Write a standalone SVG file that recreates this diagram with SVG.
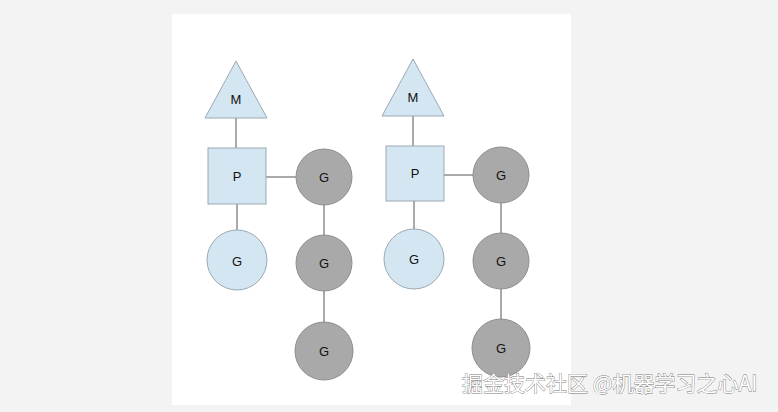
<svg xmlns="http://www.w3.org/2000/svg" width="778" height="412" viewBox="0 0 778 412">
<style>
.b{fill:#d4e6f2;stroke:#9aa9b4;stroke-width:1}
.g{fill:#a9a9a9;stroke:#8e8e8e;stroke-width:1}
.t{font-family:"Liberation Sans",Arial,sans-serif;font-size:13px;fill:#111;text-anchor:middle;dominant-baseline:central}
.c line{stroke:#555;stroke-width:1}
.w{font-family:"Noto Sans CJK SC",sans-serif;font-size:21px;fill:#fff;stroke:#777;stroke-width:0.8;paint-order:stroke}
</style>
<rect width="778" height="412" fill="#f3f3f3"/>
<rect x="172" y="14" width="399" height="391" fill="#fff"/>
<g class="c">
<line x1="236" y1="118" x2="236" y2="148"/><line x1="237" y1="204" x2="237" y2="230"/><line x1="266" y1="177" x2="296" y2="177"/>
<line x1="324" y1="205" x2="324" y2="235"/><line x1="324" y1="291" x2="324" y2="323"/>
<line x1="413" y1="116" x2="413" y2="146"/><line x1="414" y1="201" x2="414" y2="229"/><line x1="444" y1="175" x2="473" y2="175"/>
<line x1="501" y1="203" x2="501" y2="233"/><line x1="501" y1="289" x2="501" y2="320"/>
</g>
<g id="m1"><polygon class="b" points="236,61 267,118 205,118"/><text class="t" x="236" y="99">M</text></g>
<g id="p1"><rect class="b" x="208" y="148" width="58" height="56"/><text class="t" x="237" y="176">P</text></g>
<g id="g1"><circle class="b" cx="237" cy="260" r="30"/><text class="t" x="237" y="261">G</text></g>
<g id="g2"><circle class="g" cx="324" cy="177" r="28"/><text class="t" x="324" y="177">G</text></g>
<g id="g3"><circle class="g" cx="324" cy="263" r="28"/><text class="t" x="324" y="263">G</text></g>
<g id="g4"><circle class="g" cx="324" cy="351" r="29"/><text class="t" x="324" y="351">G</text></g>
<g id="m2"><polygon class="b" points="413,59 444,116 382,116"/><text class="t" x="413" y="97">M</text></g>
<g id="p2"><rect class="b" x="386" y="146" width="58" height="55"/><text class="t" x="415" y="173">P</text></g>
<g id="g5"><circle class="b" cx="414" cy="259" r="30"/><text class="t" x="414" y="259">G</text></g>
<g id="g6"><circle class="g" cx="501" cy="175" r="28"/><text class="t" x="501" y="175">G</text></g>
<g id="g7"><circle class="g" cx="501" cy="261" r="28"/><text class="t" x="501" y="261">G</text></g>
<g id="g8"><circle class="g" cx="501" cy="348" r="29"/><text class="t" x="501" y="348">G</text></g>
<text class="w" x="462" y="391">掘金技术社区 @机器学习之心AI</text>
</svg>
